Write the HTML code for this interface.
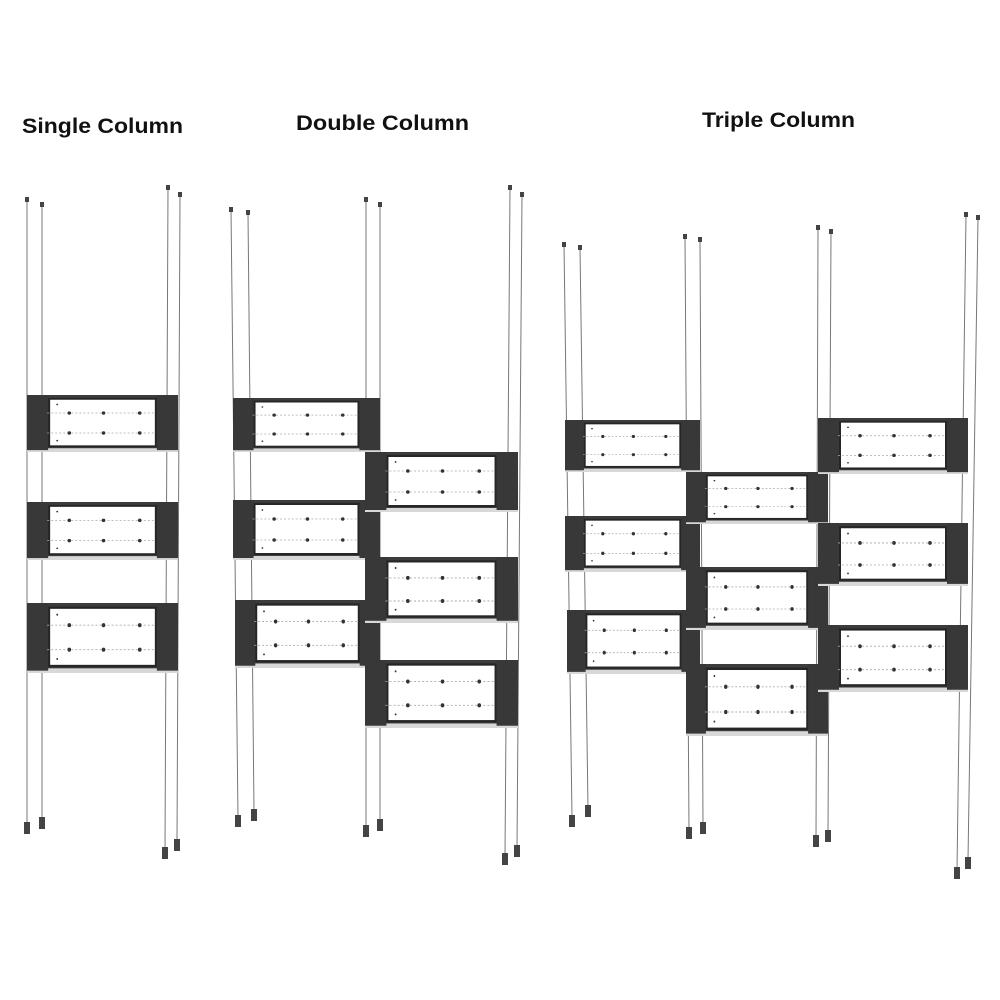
<!DOCTYPE html>
<html><head><meta charset="utf-8"><style>
html,body{margin:0;padding:0;background:#fff;}
svg{display:block;}
</style></head><body>
<svg width="1000" height="1000" viewBox="0 0 1000 1000" xmlns="http://www.w3.org/2000/svg">
<defs>
<symbol id="box" viewBox="0 0 150 60" preserveAspectRatio="none">
  <rect x="0" y="0" width="150" height="60" fill="#3c3c3c"/>
  <rect x="0" y="56" width="150" height="4" fill="#d8d8d8"/>
  <rect x="20" y="3" width="110" height="52" fill="#262626"/>
  <rect x="23" y="5" width="104" height="48" fill="#fff"/>
  <rect x="0" y="0" width="21" height="58" fill="#383838"/>
  <rect x="129" y="0" width="21" height="58" fill="#383838"/>
  <g stroke="#aaa" stroke-width="0.8" stroke-dasharray="2,2">
    <line x1="20" y1="19" x2="128" y2="19"/>
    <line x1="20" y1="40" x2="128" y2="40"/>
  </g>
  <g fill="#333">
    <circle cx="42" cy="19" r="1.8"/><circle cx="76" cy="19" r="1.8"/><circle cx="112" cy="19" r="1.8"/>
    <circle cx="42" cy="40" r="1.8"/><circle cx="76" cy="40" r="1.8"/><circle cx="112" cy="40" r="1.8"/>
    <circle cx="30" cy="10" r="0.9"/><circle cx="30" cy="48" r="0.9"/>
  </g>
</symbol>
</defs>

<g font-family="'Liberation Sans', sans-serif" font-weight="bold" font-size="21" fill="#111">
<text x="22" y="133" textLength="161" lengthAdjust="spacingAndGlyphs">Single Column</text>
<text x="296" y="130" textLength="173" lengthAdjust="spacingAndGlyphs">Double Column</text>
<text x="702" y="127" textLength="153" lengthAdjust="spacingAndGlyphs">Triple Column</text>
</g>

<g stroke="#777" stroke-width="1">
<line x1="27" y1="200" x2="27" y2="825"/><line x1="42" y1="205" x2="42" y2="820"/>
<line x1="168" y1="188" x2="165" y2="850"/><line x1="180" y1="195" x2="177" y2="842"/>
<line x1="231" y1="210" x2="238" y2="818"/><line x1="248" y1="213" x2="254" y2="812"/>
<line x1="366" y1="200" x2="366" y2="828"/><line x1="380" y1="205" x2="380" y2="822"/>
<line x1="510" y1="188" x2="505" y2="856"/><line x1="522" y1="195" x2="517" y2="848"/>
<line x1="564" y1="245" x2="572" y2="818"/><line x1="580" y1="248" x2="588" y2="808"/>
<line x1="685" y1="237" x2="689" y2="830"/><line x1="700" y1="240" x2="703" y2="825"/>
<line x1="818" y1="228" x2="816" y2="838"/><line x1="831" y1="232" x2="828" y2="833"/>
<line x1="966" y1="215" x2="957" y2="870"/><line x1="978" y1="218" x2="968" y2="860"/>
</g>
<g fill="#444">
<rect x="25" y="197" width="4" height="5"/><rect x="40" y="202" width="4" height="5"/>
<rect x="166" y="185" width="4" height="5"/><rect x="178" y="192" width="4" height="5"/>
<rect x="229" y="207" width="4" height="5"/><rect x="246" y="210" width="4" height="5"/>
<rect x="364" y="197" width="4" height="5"/><rect x="378" y="202" width="4" height="5"/>
<rect x="508" y="185" width="4" height="5"/><rect x="520" y="192" width="4" height="5"/>
<rect x="562" y="242" width="4" height="5"/><rect x="578" y="245" width="4" height="5"/>
<rect x="683" y="234" width="4" height="5"/><rect x="698" y="237" width="4" height="5"/>
<rect x="816" y="225" width="4" height="5"/><rect x="829" y="229" width="4" height="5"/>
<rect x="964" y="212" width="4" height="5"/><rect x="976" y="215" width="4" height="5"/>
<rect x="24" y="822" width="6" height="12"/><rect x="39" y="817" width="6" height="12"/>
<rect x="162" y="847" width="6" height="12"/><rect x="174" y="839" width="6" height="12"/>
<rect x="235" y="815" width="6" height="12"/><rect x="251" y="809" width="6" height="12"/>
<rect x="363" y="825" width="6" height="12"/><rect x="377" y="819" width="6" height="12"/>
<rect x="502" y="853" width="6" height="12"/><rect x="514" y="845" width="6" height="12"/>
<rect x="569" y="815" width="6" height="12"/><rect x="585" y="805" width="6" height="12"/>
<rect x="686" y="827" width="6" height="12"/><rect x="700" y="822" width="6" height="12"/>
<rect x="813" y="835" width="6" height="12"/><rect x="825" y="830" width="6" height="12"/>
<rect x="954" y="867" width="6" height="12"/><rect x="965" y="857" width="6" height="12"/>
</g>

<use href="#box" x="27" y="395" width="151" height="57"/>
<use href="#box" x="27" y="502" width="151" height="58"/>
<use href="#box" x="27" y="603" width="151" height="70"/>

<use href="#box" x="233" y="398" width="147" height="54"/>
<use href="#box" x="233" y="500" width="147" height="60"/>
<use href="#box" x="235" y="600" width="145" height="68"/>
<use href="#box" x="365" y="452" width="153" height="60"/>
<use href="#box" x="365" y="557" width="153" height="66"/>
<use href="#box" x="365" y="660" width="153" height="68"/>

<use href="#box" x="565" y="420" width="135" height="52"/>
<use href="#box" x="565" y="516" width="135" height="56"/>
<use href="#box" x="567" y="610" width="133" height="64"/>
<use href="#box" x="686" y="472" width="142" height="52"/>
<use href="#box" x="686" y="567" width="142" height="63"/>
<use href="#box" x="686" y="664" width="142" height="72"/>
<use href="#box" x="818" y="418" width="150" height="56"/>
<use href="#box" x="818" y="523" width="150" height="63"/>
<use href="#box" x="818" y="625" width="150" height="67"/>
</svg>
</body></html>
